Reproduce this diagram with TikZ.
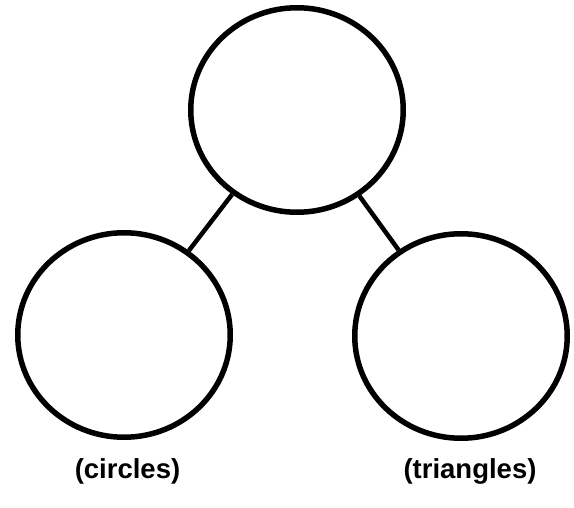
\documentclass[tikz,border=0pt]{standalone}
\usepackage{fontspec}
\setmainfont{Liberation Sans}
\usepackage{tikz}
\usetikzlibrary{positioning, shapes.geometric}

\begin{document}
\begin{tikzpicture}[
    x=1pt, y=-1pt,
    bubble/.style={ellipse, draw, line width=5.5pt, inner sep=0pt, minimum width=212.5pt, minimum height=204.5pt},
    link/.style={line width=4.5pt},
    caption/.style={font=\bfseries\fontsize{27.5}{32}\selectfont, inner sep=0pt}
]
\useasboundingbox (0,0) rectangle (574,508);

\node[bubble] (whole) at (297,110) {};
\node[bubble] (circles) at (124,335) {};
\node[bubble] (triangles) at (461,336) {};

\node[caption] (circlestext) at (127.5,471) {(circles)};
\node[caption] (trianglestext) at (470,471) {(triangles)};

\draw[link] (whole) -- (circles);
\draw[link] (whole) -- (triangles);

\end{tikzpicture}
\end{document}
